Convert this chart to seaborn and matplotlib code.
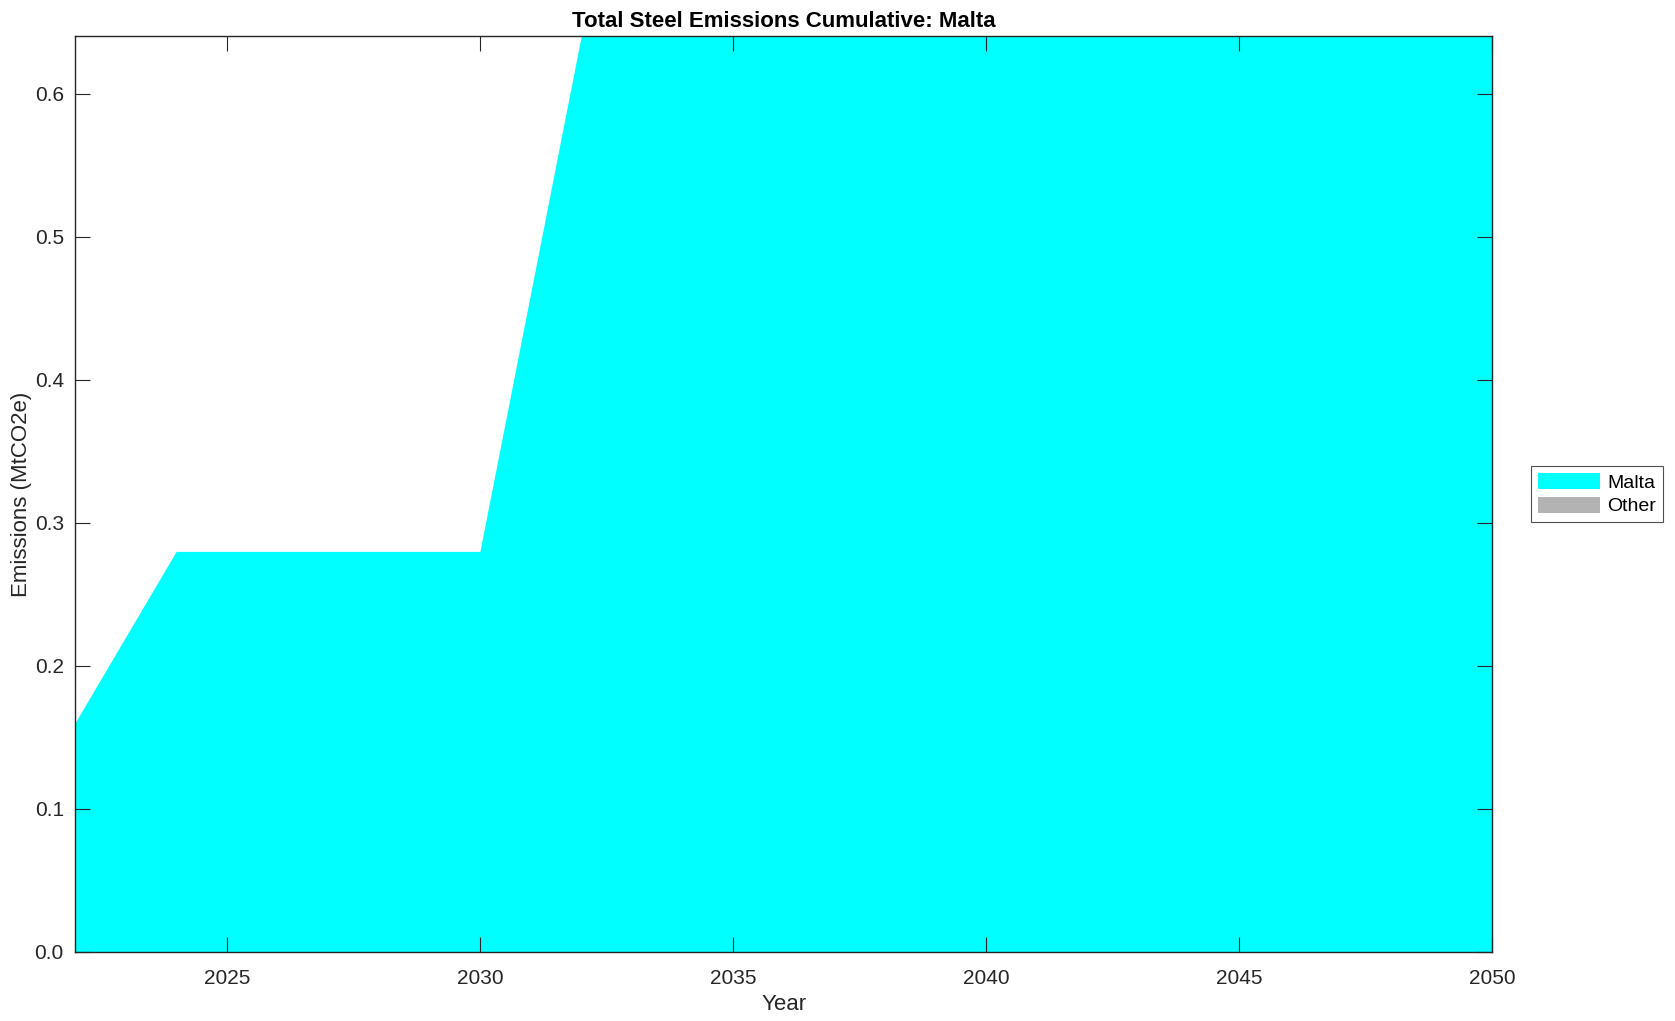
import matplotlib.pyplot as plt
import seaborn as sns
import pandas as pd

# Cumulative steel emissions (MtCO2e)
anos = [2022, 2023, 2024, 2025, 2026, 2027, 2028, 2029, 2030, 2031, 2032,
        2033, 2034, 2035, 2036, 2037, 2038, 2039, 2040, 2041, 2042, 2043,
        2044, 2045, 2046, 2047, 2048, 2049, 2050]
malta = [0.16, 0.22, 0.28, 0.28, 0.28, 0.28, 0.28, 0.28, 0.28, 0.46, 0.64,
         0.64, 0.64, 0.64, 0.64, 0.64, 0.64, 0.64, 0.64, 0.64, 0.64, 0.64,
         0.64, 0.64, 0.64, 0.64, 0.64, 0.64, 0.64]
other = [0.0] * len(anos)

series = ['Malta', 'Other']
cores = ['#00ffff', '#b3b3b3']

dados = pd.DataFrame({'Year': anos, 'Malta': malta, 'Other': other})

sns.set_style("white")
plt.rcParams['font.family'] = ['Liberation Sans', 'DejaVu Sans']

fig, ax = plt.subplots(figsize=(16.75, 10.21), dpi=100)
fig.subplots_adjust(left=0.0447, right=0.891, top=0.9644, bottom=0.0676)

polys = ax.stackplot(dados['Year'], dados['Malta'], dados['Other'],
                     colors=cores, labels=series, linewidth=0)
for p in polys:
    p.set_zorder(0.5)

ax.set_xlim(2022, 2050)
ax.set_ylim(0, 0.64)
ax.set_xticks([2025, 2030, 2035, 2040, 2045, 2050])
ax.set_yticks([0.0, 0.1, 0.2, 0.3, 0.4, 0.5, 0.6])
ax.set_yticklabels([f'{v:.1f}' for v in ax.get_yticks()])
ax.tick_params(direction='in', length=11, width=0.8, colors='#262626',
               labelsize=15, top=True, right=True, bottom=True, left=True)
ax.tick_params(axis='x', pad=12.5)
ax.tick_params(axis='y', pad=8)
for s in ax.spines.values():
    s.set_color('#262626')
    s.set_linewidth(1.0)
ax.set_axisbelow(False)

ax.set_title('Total Steel Emissions Cumulative: Malta', fontsize=16,
             fontweight='bold', pad=7, color='black')
ax.set_xlabel('Year', fontsize=16, color='#262626', labelpad=4)
ax.set_ylabel('Emissions (MtCO2e)', fontsize=16, color='#262626', labelpad=1.5)

leg = ax.legend(loc='center left', bbox_to_anchor=(1.027, 0.5), fontsize=14,
                frameon=True, fancybox=False, handlelength=3.2, handleheight=0.9,
                borderpad=0.35, labelspacing=0.25, handletextpad=0.4,
                borderaxespad=0, labelcolor='black')
leg.get_frame().set_edgecolor('#262626')
leg.get_frame().set_linewidth(0.8)

plt.savefig('out.png', dpi=100)
